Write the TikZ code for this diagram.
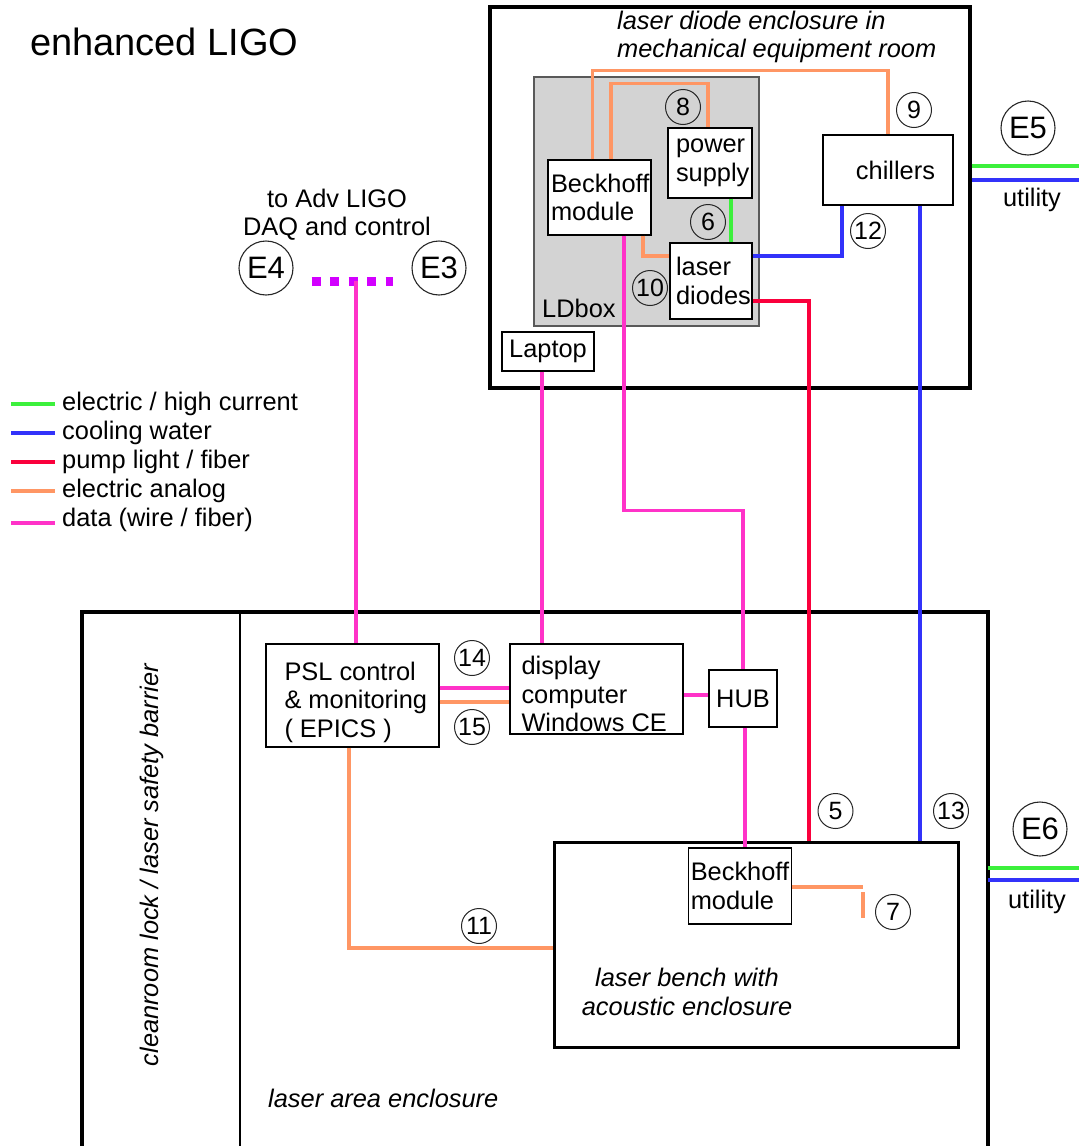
\documentclass[tikz,border=0pt]{standalone}
\usepackage{fontspec}
\setmainfont{Liberation Sans}
\definecolor{hicurrent}{RGB}{60,240,60}
\definecolor{coolwater}{RGB}{50,50,250}
\definecolor{pumplight}{RGB}{250,0,60}
\definecolor{eanalog}{RGB}{255,150,100}
\definecolor{datalink}{RGB}{255,50,200}
\definecolor{daqlink}{RGB}{210,0,255}
\definecolor{ldgray}{RGB}{211,211,211}
\newcommand{\labfont}{\fontsize{25.4}{28.5}\selectfont\hyphenpenalty=10000\exhyphenpenalty=10000}
\newcommand{\numfont}{\fontsize{25}{25}\selectfont}
\newcommand{\extfont}{\fontsize{31}{31}\selectfont}
\newcommand{\headfont}{\fontsize{38}{40}\selectfont}

\begin{document}
\begin{tikzpicture}[
  x=1pt, y=-1pt,
  wall/.style={draw=black, line width=3.4pt},
  unit/.style={draw=black, line width=1.4pt, fill=white, inner ysep=0pt, align=left, font=\labfont},
  num/.style={draw=black!85, circle, line width=1pt, minimum size=35pt, inner sep=0pt, font=\numfont},
  ext/.style={draw=black!85, circle, line width=1.1pt, minimum size=54pt, inner sep=0pt, font=\extfont},
  lab/.style={inner sep=0pt, font=\labfont, align=left},
  ital/.style={inner sep=0pt, font=\labfont\itshape, align=left},
  wire/.style={line width=3.3pt},
  hicur/.style={wire, draw=hicurrent},
  cool/.style={wire, draw=coolwater},
  pump/.style={wire, draw=pumplight},
  analog/.style={wire, draw=eanalog},
  data/.style={wire, draw=datalink},
  daq/.style={draw=daqlink, line width=9pt, dash pattern=on 9pt off 9.5pt},
]

  \path[use as bounding box] (0,0) rectangle (1079,1146);
  \clip (0,0) rectangle (1079,1146);

  % --- Title ---
  \node[inner sep=0pt, font=\headfont, anchor=west] (head) at (30,42) {enhanced LIGO};

  % --- Legend ---
  \node[lab, anchor=west] (lgA) at (62,404) {electric / high current};
  \node[lab, anchor=west] (lgB) at (62,433) {cooling water};
  \node[lab, anchor=west] (lgC) at (62,462) {pump light / fiber};
  \node[lab, anchor=west] (lgD) at (62,491) {electric analog};
  \node[lab, anchor=west] (lgE) at (62,520) {data (wire / fiber)};
  \draw[hicur]  ([xshift=-51pt]lgA.west) -- ([xshift=-7pt]lgA.west);
  \draw[cool]   ([xshift=-51pt]lgB.west) -- ([xshift=-7pt]lgB.west);
  \draw[pump]   ([xshift=-51pt]lgC.west) -- ([xshift=-7pt]lgC.west);
  \draw[analog] ([xshift=-51pt]lgD.west) -- ([xshift=-7pt]lgD.west);
  \draw[data]   ([xshift=-51pt,yshift=-3pt]lgE.west) -- ([xshift=-7pt,yshift=-3pt]lgE.west);

  % --- Laser diode enclosure (mechanical equipment room) ---
  \node[wall, minimum width=480pt, minimum height=381pt, inner sep=0pt] (ldroom) at (730,197.5) {};
  \node[ital, anchor=west] (ldtitle) at (617,37) {laser diode enclosure in\\mechanical equipment room};
  \node[draw=black!65, line width=1.2pt, fill=ldgray, minimum width=225pt, minimum height=249pt, inner sep=0pt] (ldbox) at (646.5,201.5) {};
  \node[lab, anchor=west] (ldboxlab) at (542,308) {LDbox};
  \node[num] (n10) at (650,288) {10};

  \node[unit, minimum width=103pt, minimum height=75pt, inner xsep=3pt, text width=97pt] (bkA) at (599.5,197.5) {Beckhoff\\module};
  \node[unit, minimum width=84pt, minimum height=70pt, inner xsep=8pt, text width=68pt] (psu) at (710,163) {power\\supply};
  \node[unit, minimum width=82pt, minimum height=76pt, inner xsep=6pt, text width=70pt] (ld) at (711,281) {laser\\diodes};
  \node[unit, minimum width=130pt, minimum height=70pt, inner xsep=18pt, text width=94pt, align=right] (chill) at (888,170) {chillers};
  \node[unit, minimum width=92pt, minimum height=39pt, inner xsep=4pt, text width=84pt, align=center] (laptop) at (548,351.5) {Laptop};

  % --- External connections ---
  \node[ext] (eFour) at (266,268) {E4};
  \node[ext] (eThree) at (439,268) {E3};
  \node[lab, align=center] (daqlab) at (337,214.5) {to Adv LIGO\\DAQ and control};
  \node[ext] (eFive) at (1028,128) {E5};
  \node[ext] (eSix) at (1040,829) {E6};
  \node[lab] (utilTop) at (1032,200) {utility};
  \node[lab] (utilBot) at (1037,902) {utility};

  % --- Laser area enclosure ---
  \coordinate (areaNE) at (988,612);
  \draw[wall] (82,1160) -- (82,612) -- (areaNE) -- (988,1160);
  \draw[line width=1.4pt] (240,612) -- (240,1160);
  \node[ital, rotate=90] (lockLab) at (152,865) {cleanroom lock / laser safety barrier};
  \node[ital, anchor=west] (areaLab) at (268,1098) {laser area enclosure};

  \node[unit, minimum width=173pt, minimum height=103pt] (psl) at (352.5,695.5) {};
  \node[lab, anchor=west] (pslText) at ([xshift=19pt,yshift=-6.5pt]psl.west) {PSL control\\\& monitoring\\( EPICS )};
  \node[unit, minimum width=173pt, minimum height=90pt] (disp) at (596.5,689) {};
  \node[lab, anchor=west] (dispText) at ([xshift=12pt,yshift=-5pt]disp.west) {display\\computer\\Windows CE};
  \node[unit, minimum width=68pt, minimum height=57pt, inner xsep=3pt, text width=62pt, align=center] (hub) at (743,698.5) {HUB};

  \node[wall, line width=3pt, minimum width=404pt, minimum height=205pt, inner sep=0pt] (bench) at (756,944.5) {};
  \node[ital, align=center] (benchLab) at (687,992) {laser bench with\\acoustic enclosure};
  \node[unit, minimum width=102.5pt, minimum height=76pt, inner xsep=2pt, text width=98.5pt] (bkB) at (740,886) {Beckhoff\\module};

  % --- Connections in the laser diode room ---
  \draw[analog] ([xshift=-7pt]bkA.north) -- ++(0,-89) -| (chill.north);
  \draw[analog] ([xshift=11.5pt]bkA.north) -- ++(0,-76) -| ([xshift=-2pt]psu.north);
  \draw[analog] ([xshift=43.5pt]bkA.south) |- ([yshift=25pt]ld.west);
  \draw[hicur] ([xshift=21pt]psu.south) -- ([xshift=21pt]psu.south |- ld.north);
  \draw[cool] ([yshift=25pt]ld.east) -| ([xshift=-46pt]chill.south);
  \draw[pump] ([yshift=-20pt]ld.east) -| ([xshift=53pt]bench.north);
  \draw[cool] ([xshift=32pt]chill.south) -- ([xshift=32pt]chill.south |- bench.north);
  \draw[data] ([xshift=24.5pt]bkA.south) -- ++(0,275) -| (hub.north);
  \draw[data] ([xshift=-6pt]laptop.south) -- ([xshift=-6pt]laptop.south |- disp.north);

  % --- Utility feeds ---
  \coordinate (utilA) at (1079,166);
  \coordinate (utilB) at (1079,180);
  \coordinate (utilC) at (1079,868);
  \coordinate (utilD) at (1079,880);
  \draw[hicur] (utilA -| ldroom.east) -- (utilA);
  \draw[cool]  (utilB -| ldroom.east) -- (utilB);
  \draw[hicur] (utilC -| areaNE) -- (utilC);
  \draw[cool]  (utilD -| areaNE) -- (utilD);

  % --- DAQ link ---
  \draw[daq] ([xshift=18pt,yshift=-13pt]eFour.east) -- ([xshift=-18pt,yshift=-13pt]eThree.west);
  \coordinate (daqtap) at (356,281);
  \draw[data] (daqtap) -- (daqtap |- psl.north);

  % --- Connections in the laser area ---
  \draw[data] ([yshift=7.5pt]psl.east) -- ([yshift=7.5pt]psl.east -| disp.west);
  \draw[analog] ([yshift=-6.5pt]psl.east) -- ([yshift=-6.5pt]psl.east -| disp.west);
  \draw[data] ([yshift=-6pt]disp.east) -- ([yshift=-6pt]disp.east -| hub.west);
  \draw[data] ([xshift=2pt]hub.south) -- ([xshift=2pt]hub.south |- bkB.north);
  \draw[analog] ([xshift=-3.5pt]psl.south) |- ([yshift=-3.5pt]bench.west);
  \draw[analog] ([yshift=-1pt]bkB.east) -- ++(71,0);
  \draw[analog] ([xshift=71pt,yshift=-6pt]bkB.east) -- ++(0,26);

  % --- Item numbers ---
  \node[num] (n8) at (683,107) {8};
  \node[num] (n9) at (914,110) {9};
  \node[num] (n6) at (708,222) {6};
  \node[num] (n12) at (868,231) {12};
  \node[num] (n14) at (472,658) {14};
  \node[num] (n15) at (472,727) {15};
  \node[num] (n11) at (479,926) {11};
  \node[num] (n5) at (835.5,811) {5};
  \node[num] (n13) at (951,811) {13};
  \node[num] (n7) at (893,912) {7};

\end{tikzpicture}
\end{document}
